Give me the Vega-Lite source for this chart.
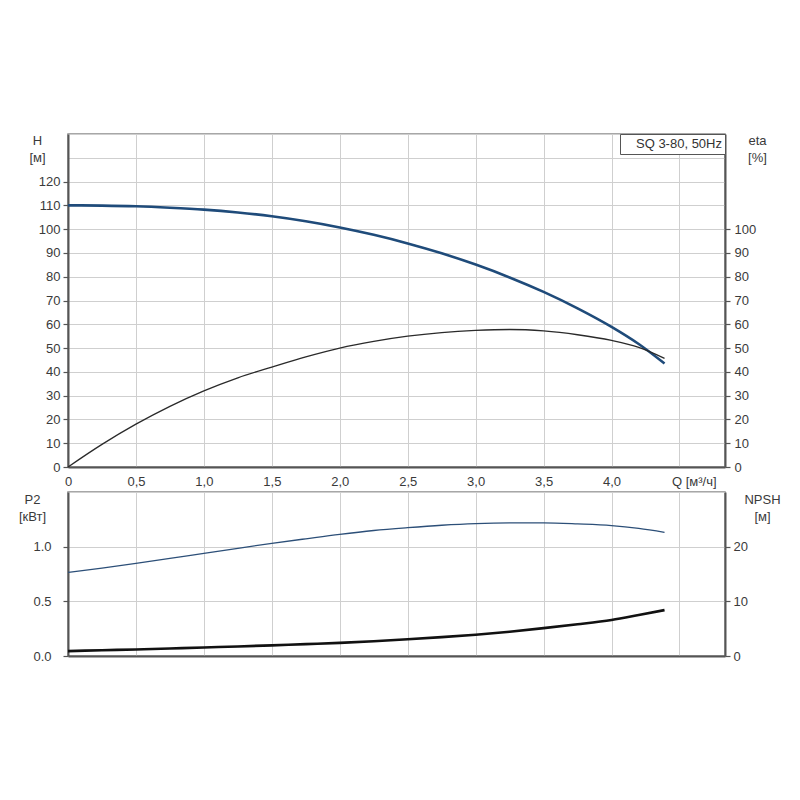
{
  "$schema": "https://vega.github.io/schema/vega-lite/v6.json",
  "padding": {"left": 17, "top": 133, "right": 5, "bottom": 5},
  "background": "white",
  "spacing": 2,
  "datasets": {
    "top": [
      {"Q": 0, "H": 110, "eta": 0},
      {"Q": 0.25, "H": 109.9, "eta": 9.5},
      {"Q": 0.5, "H": 109.6, "eta": 18},
      {"Q": 0.75, "H": 109.0, "eta": 25.5},
      {"Q": 1.0, "H": 108.2, "eta": 32},
      {"Q": 1.25, "H": 107.0, "eta": 37.5},
      {"Q": 1.5, "H": 105.4, "eta": 42},
      {"Q": 1.75, "H": 103.3, "eta": 46.3},
      {"Q": 2.0, "H": 100.7, "eta": 50},
      {"Q": 2.25, "H": 97.6, "eta": 52.8},
      {"Q": 2.5, "H": 94.0, "eta": 55},
      {"Q": 2.75, "H": 89.85, "eta": 56.5},
      {"Q": 3.0, "H": 85.1, "eta": 57.4},
      {"Q": 3.25, "H": 79.7, "eta": 57.8},
      {"Q": 3.5, "H": 73.6, "eta": 57.2},
      {"Q": 3.75, "H": 66.7, "eta": 55.6},
      {"Q": 4.0, "H": 58.9, "eta": 53.2},
      {"Q": 4.2, "H": 51.7, "eta": 50.3},
      {"Q": 4.39, "H": 43.5, "eta": 45.7}
    ],
    "bottom": [
      {"Q": 0, "P2": 0.764, "NPSH": 0.9},
      {"Q": 0.25, "P2": 0.804, "NPSH": 1.05},
      {"Q": 0.5, "P2": 0.847, "NPSH": 1.2},
      {"Q": 0.75, "P2": 0.892, "NPSH": 1.37},
      {"Q": 1.0, "P2": 0.939, "NPSH": 1.55},
      {"Q": 1.25, "P2": 0.985, "NPSH": 1.75},
      {"Q": 1.5, "P2": 1.03, "NPSH": 1.95},
      {"Q": 1.75, "P2": 1.072, "NPSH": 2.17},
      {"Q": 2.0, "P2": 1.113, "NPSH": 2.4},
      {"Q": 2.25, "P2": 1.148, "NPSH": 2.7},
      {"Q": 2.5, "P2": 1.174, "NPSH": 3.05},
      {"Q": 2.75, "P2": 1.196, "NPSH": 3.45},
      {"Q": 3.0, "P2": 1.211, "NPSH": 3.9},
      {"Q": 3.25, "P2": 1.217, "NPSH": 4.45},
      {"Q": 3.5, "P2": 1.217, "NPSH": 5.1},
      {"Q": 3.75, "P2": 1.208, "NPSH": 5.8},
      {"Q": 4.0, "P2": 1.193, "NPSH": 6.6},
      {"Q": 4.2, "P2": 1.167, "NPSH": 7.5},
      {"Q": 4.39, "P2": 1.131, "NPSH": 8.4}
    ]
  },
  "vconcat": [
    {
      "width": 657,
      "height": 333,
      "data": {"name": "top"},
      "layer": [
        {
          "mark": {"type": "line", "strokeWidth": 2.6, "interpolate": "monotone", "color": "#1f4b7a"},
          "encoding": {
            "x": {
              "field": "Q", "type": "quantitative",
              "scale": {"domain": [0, 4.835], "nice": false, "zero": false},
              "axis": {
                "values": [0, 0.5, 1, 1.5, 2, 2.5, 3, 3.5, 4, 4.5],
                "grid": true, "ticks": false, "title": null, "labelPadding": 8,
                "labelExpr": "datum.value == 4.5 ? 'Q [м³/ч]' : (datum.value == 0 ? '0' : replace(format(datum.value, '.1f'), '.', ','))",
                "labelAlign": {"condition": {"test": "datum.value == 4.5", "value": "left"}, "value": "center"},
                "labelOffset": {"condition": {"test": "datum.value == 4.5", "value": -8}, "value": 0}
              }
            },
            "y": {
              "field": "H", "type": "quantitative",
              "scale": {"domain": [0, 140], "nice": false},
              "axis": {
                "orient": "left",
                "values": [0, 10, 20, 30, 40, 50, 60, 70, 80, 90, 100, 110, 120, 130, 140],
                "grid": true, "tickSize": 5, "labelPadding": 3,
                "labelExpr": "datum.value > 120 ? '' : datum.label",
                "tickOpacity": {"condition": {"test": "datum.value > 120", "value": 0}, "value": 1},
                "title": ["H", "[м]"], "titleAngle": 0, "titleAlign": "center", "titleBaseline": "middle",
                "titleX": -31, "titleY": 6, "titleLineHeight": 17
              }
            },
            "color": {
              "datum": "SQ 3-80, 50Hz",
              "scale": {"range": ["#1f4b7a"]},
              "legend": {
                "orient": "top-right", "offset": 0, "title": null,
                "strokeColor": "#555", "fillColor": "white", "padding": 3,
                "symbolSize": 0, "symbolOpacity": 0, "symbolStrokeWidth": 0, "labelOffset": 0,
                "labelFontSize": 13, "labelColor": "#333", "labelFont": "Liberation Sans"
              }
            }
          }
        },
        {
          "mark": {"type": "line", "strokeWidth": 1.3, "interpolate": "monotone", "color": "#2a2a2a"},
          "encoding": {
            "x": {"field": "Q", "type": "quantitative", "scale": {"domain": [0, 4.835], "nice": false, "zero": false}},
            "y": {
              "field": "eta", "type": "quantitative",
              "scale": {"domain": [0, 140], "nice": false},
              "axis": {
                "orient": "right",
                "values": [0, 10, 20, 30, 40, 50, 60, 70, 80, 90, 100],
                "grid": false, "tickSize": 5, "labelPadding": 4,
                "title": ["eta", "[%]"], "titleAngle": 0, "titleAlign": "center", "titleBaseline": "middle",
                "titleX": 32, "titleY": 6, "titleLineHeight": 17
              }
            }
          }
        }
      ],
      "resolve": {"scale": {"y": "independent"}}
    },
    {
      "width": 657,
      "height": 164,
      "data": {"name": "bottom"},
      "layer": [
        {
          "mark": {"type": "line", "strokeWidth": 1.3, "interpolate": "monotone", "color": "#2c4f78"},
          "encoding": {
            "x": {
              "field": "Q", "type": "quantitative",
              "scale": {"domain": [0, 4.835], "nice": false, "zero": false},
              "axis": {
                "values": [0, 0.5, 1, 1.5, 2, 2.5, 3, 3.5, 4, 4.5],
                "grid": true, "ticks": false, "labels": false, "title": null
              }
            },
            "y": {
              "field": "P2", "type": "quantitative",
              "scale": {"domain": [0, 1.5], "nice": false},
              "axis": {
                "orient": "left",
                "values": [0, 0.5, 1, 1.5],
                "grid": true, "tickSize": 5, "labelPadding": 12,
                "labelExpr": "datum.value >= 1.5 ? '' : format(datum.value, '.1f')",
                "tickOpacity": {"condition": {"test": "datum.value >= 1.5", "value": 0}, "value": 1},
                "title": ["P2", "[кВт]"], "titleAngle": 0, "titleAlign": "center", "titleBaseline": "middle",
                "titleX": -36, "titleY": 7, "titleLineHeight": 17
              }
            }
          }
        },
        {
          "mark": {"type": "line", "strokeWidth": 2.6, "interpolate": "monotone", "color": "#111111"},
          "encoding": {
            "x": {"field": "Q", "type": "quantitative", "scale": {"domain": [0, 4.835], "nice": false, "zero": false}},
            "y": {
              "field": "NPSH", "type": "quantitative",
              "scale": {"domain": [0, 30], "nice": false},
              "axis": {
                "orient": "right",
                "values": [0, 10, 20, 30],
                "grid": false, "tickSize": 5, "labelPadding": 3,
                "labelExpr": "datum.value >= 30 ? '' : datum.label",
                "tickOpacity": {"condition": {"test": "datum.value >= 30", "value": 0}, "value": 1},
                "title": ["NPSH", "[м]"], "titleAngle": 0, "titleAlign": "center", "titleBaseline": "middle",
                "titleX": 37, "titleY": 7, "titleLineHeight": 17
              }
            }
          }
        }
      ],
      "resolve": {"scale": {"y": "independent"}}
    }
  ],
  "config": {
    "view": {"stroke": "#8a8a8a", "strokeWidth": 1.5},
    "axis": {
      "labelFont": "Liberation Sans", "labelFontSize": 13, "labelColor": "#3a3a3a",
      "titleFont": "Liberation Sans", "titleFontSize": 13, "titleFontWeight": "normal", "titleColor": "#3a3a3a",
      "domainColor": "#555", "domainWidth": 2, "tickColor": "#555", "tickWidth": 1.2,
      "gridColor": "#cfcfcf", "gridWidth": 1, "gridOpacity": 1
    }
  }
}
